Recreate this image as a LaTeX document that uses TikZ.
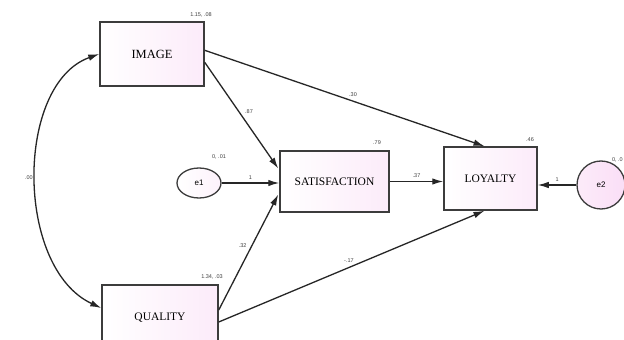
\documentclass[tikz,border=0pt]{standalone}
\usepackage{fontspec}
\setmainfont{Liberation Serif}
\setsansfont{Liberation Sans}
\usepackage{xcolor}
\usetikzlibrary{arrows.meta,calc,shapes.geometric}
\definecolor{pinkfill}{RGB}{250,222,246}
\definecolor{edgegray}{RGB}{60,60,60}
\tikzset{
	varbox/.style={draw=edgegray, line width=1.5pt, left color=white, right color=pinkfill!60,
			minimum width=#1, inner sep=0pt, font=\fontsize{11.5}{13}\selectfont},
	errnode/.style={draw=edgegray, line width=1.3pt, ellipse, inner sep=0pt, font=\sffamily\fontsize{8}{9}\selectfont},
	est/.style={font=\sffamily\fontsize{5.5}{6}\selectfont, text=black!75, inner sep=1pt},
	path/.style={-{Latex[length=11pt,width=6.5pt]}, line width=1.3pt, draw=black!85}
}
\begin{document}
\begin{tikzpicture}[x=1pt, y=1pt]
	\clip (0,0) rectangle (624,340);
	\fill[white] (0,0) rectangle (624,340);
	% observed variables
	\node[varbox=104pt, minimum height=64pt, font=\fontsize{12.5}{14}\selectfont] (image) at (152,286) {IMAGE};
	\node[varbox=109pt, minimum height=61pt] (sat) at (334.5,158.5) {SATISFACTION};
	\node[varbox=93pt, minimum height=63pt] (loy) at (490.5,161.5) {LOYALTY};
	\node[varbox=116pt, minimum height=66pt] (qual) at (160,22) {QUALITY};
	% error terms
	\node[errnode, minimum width=44pt, minimum height=30pt, right color=pinkfill!40, left color=white] (e1) at (199,157) {e1};
	\node[errnode, circle, minimum size=48pt, left color=pinkfill!60, right color=pinkfill] (e2) at (601,155) {e2};
	% estimates beside the nodes
	\node[est] (imgv) at (201,325) {1.15, .08};
	\node[est] (satv) at (377,197) {.79};
	\node[est] (loyv) at (530,200) {.46};
	\node[est] (e1v) at (219,183) {0, .01};
	\node[est, anchor=east] (e2v) at (624,180) {0, .0};
	\node[est] (qualv) at (212,63) {1.34, .03};
	% regression paths
	\draw [path] (image.4) -- ($(loy.north)+(-6,0)$) node[est, pos=0.53, above=3pt]{.30};
	\draw [path] (image.-9) -- ($(sat.west)+(-1,13)$) node[est, pos=0.46, right=5pt]{.87};
	\draw [path] (e1.east) -- (e1.east -| sat.west) node[est, midway, above=2pt]{1};
	\draw [path] ($(qual.east)+(0,8)$) -- ($(sat.west)+(-1,-13)$) node[est, pos=0.56, left=4pt]{.32};
	\draw [path] ($(qual.east)+(0,-4)$) -- ($(loy.south)+(-6,0)$) node[est, pos=0.49, above=3pt]{-.17};
	\draw [path] (sat.east) -- (sat.east -| loy.west) node[est, midway, above=2pt]{.37};
	\draw [path] (e2.west) -- (e2.west -| loy.east) node[est, midway, above=2pt]{1};
	% covariance
	\draw [path, {Latex[length=11pt,width=6.5pt]}-{Latex[length=11pt,width=6.5pt]}] (image.west) .. controls (15,256) and (15,72) .. ($(qual.west)+(0,10)$) node[est, pos=0.5, left=2pt]{.00};
\end{tikzpicture}
\end{document}
